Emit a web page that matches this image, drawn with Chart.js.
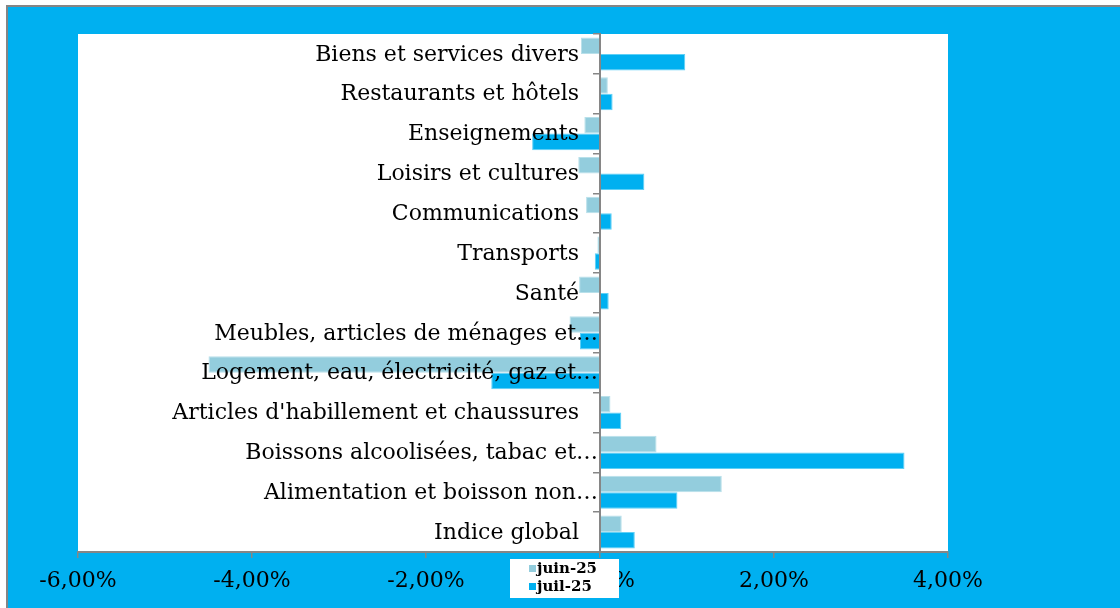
<!DOCTYPE html>
<html>
<head>
<meta charset="utf-8">
<script src="https://cdn.jsdelivr.net/npm/chart.js@4"></script>
<style>
  body { margin: 0; background: #ffffff; overflow: hidden; }
  #frame { position: absolute; left: 6px; top: 5px; width: 1200px; height: 700px;
           background: #00B0F0; border-top: 2px solid #858585; border-left: 2px solid #858585; box-sizing: border-box; }
  #wrap { position: absolute; left: 0; top: 0; width: 1120px; height: 608px; }
</style>
</head>
<body>
<div id="frame"></div>
<div id="wrap"><canvas id="cpiChart" width="1120" height="608"></canvas></div>
<script>
// Categories from top to bottom, as they appear in the picture
let categories = [
    'Biens et services divers',
    'Restaurants et hôtels',
    'Enseignements',
    'Loisirs et cultures',
    'Communications',
    'Transports',
    'Santé',
    'Meubles, articles de ménages et…',
    'Logement, eau, électricité, gaz et…',
    "Articles d'habillement et chaussures",
    'Boissons alcoolisées, tabac et…',
    'Alimentation et boisson non…',
    'Indice global'
];

// Monthly change in %
let juin25 = [-0.22, 0.09, -0.18, -0.25, -0.16, -0.03, -0.24, -0.35, -4.50, 0.12, 0.65, 1.40, 0.25];
let juil25 = [0.98, 0.145, -0.78, 0.51, 0.135, -0.06, 0.10, -0.23, -1.25, 0.245, 3.50, 0.89, 0.40];

let xTicks = [-6, -4, -2, 0, 2, 4];

let axisGray = '#868686';
let serif = '"DejaVu Serif", "Liberation Serif", serif';

// White plot area behind the bars
let plotBackground = {
    id: 'plotBackground',
    beforeDraw(chart) {
        let a = chart.chartArea;
        let ctx = chart.ctx;
        ctx.save();
        ctx.fillStyle = '#ffffff';
        ctx.fillRect(a.left, a.top, a.right - a.left, a.bottom - a.top);
        ctx.restore();
    }
};

// The y axis sits at x = 0, where Chart.js puts the labels right against the line.
// Excel keeps a gap for full labels, while the truncated ones (…) run up to the axis.
let labelGap = {
    id: 'labelGap',
    beforeDraw(chart) {
        let items = chart.scales.y.getLabelItems();
        items.forEach(item => {
            if (item._shifted) return;
            let text = String(item.label);
            item.options.translation[0] -= text.endsWith('…') ? 2 : 21;
            item.options.translation[1] += 1;
            item._shifted = true;
        });
    }
};

// Small legend box sitting over the 0,00% tick, like in the original
let boxLegend = {
    id: 'boxLegend',
    afterDraw(chart) {
        let ctx = chart.ctx;
        let x0 = chart.scales.x.getPixelForValue(0) - 90;
        let y0 = chart.chartArea.bottom + 7;
        ctx.save();
        ctx.fillStyle = '#ffffff';
        ctx.fillRect(x0, y0, 109, 39);
        ctx.font = 'bold 15px ' + serif;
        ctx.textBaseline = 'middle';
        chart.data.datasets.forEach((ds, i) => {
            let y = y0 + 10 + i * 18;
            ctx.fillStyle = ds.backgroundColor;
            ctx.fillRect(x0 + 19, y - 4, 7, 7);
            ctx.fillStyle = '#000000';
            ctx.fillText(ds.label, x0 + 27, y);
        });
        ctx.restore();
    }
};

let ctx = document.getElementById('cpiChart').getContext('2d');
let chart = new Chart(ctx, {
    type: 'bar',
    data: {
        labels: categories,
        datasets: [
            {
                label: 'juin-25',
                data: juin25,
                backgroundColor: '#93CDDD',
                borderColor: '#b8e0ea',
                borderWidth: 1,
                barPercentage: 1,
                categoryPercentage: 0.83
            },
            {
                label: 'juil-25',
                data: juil25,
                backgroundColor: '#00B0F0',
                borderColor: '#5fd0f6',
                borderWidth: 1,
                barPercentage: 1,
                categoryPercentage: 0.83
            }
        ]
    },
    options: {
        indexAxis: 'y',
        responsive: false,
        animation: false,
        layout: { padding: { left: 78, right: 172, top: 34, bottom: 0 } },
        plugins: {
            legend: { display: false },
            tooltip: { enabled: false }
        },
        scales: {
            x: {
                min: -6,
                max: 4,
                afterBuildTicks: scale => { scale.ticks = xTicks.map(v => ({ value: v })); },
                afterFit: scale => { scale.height = 56; },
                grid: { drawOnChartArea: false, drawTicks: true, tickLength: 6, color: axisGray, lineWidth: 1.5 },
                border: { color: axisGray, width: 2 },
                ticks: {
                    padding: 10,
                    color: '#000000',
                    font: { family: serif, size: 22 },
                    callback: v => v.toFixed(2).replace('.', ',') + '%'
                }
            },
            y: {
                position: { x: 0 },
                grid: { drawOnChartArea: false, drawTicks: true, tickLength: 6, color: axisGray, lineWidth: 1.5, offset: true, z: 1 },
                border: { color: axisGray, width: 2, z: 1 },
                ticks: {
                    z: 1,
                    autoSkip: false,
                    color: '#000000',
                    font: { family: serif, size: 22 }
                }
            }
        }
    },
    plugins: [plotBackground, labelGap, boxLegend]
});
</script>
</body>
</html>
